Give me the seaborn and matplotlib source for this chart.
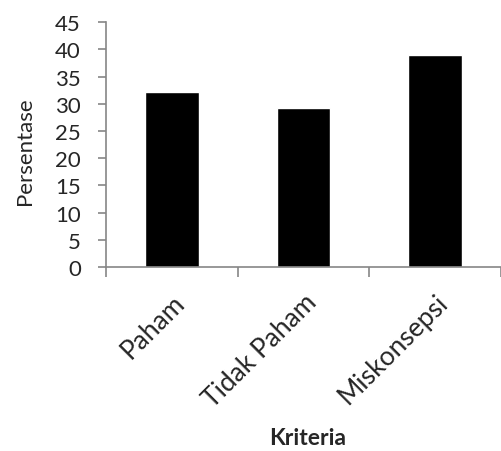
"""Bar chart of understanding criteria percentages."""

import matplotlib

matplotlib.use("Agg")
import matplotlib.pyplot as plt  # noqa: E402
import pandas as pd  # noqa: E402
import seaborn as sns  # noqa: E402

categories = ["Paham", "Tidak Paham", "Miskonsepsi"]
percentages = [32.1, 29.2, 38.9]

sns.set_style("white")
plt.rcParams["font.family"] = ["Lato", "DejaVu Sans"]

df = pd.DataFrame({"Kriteria": categories, "Persentase": percentages})

fig = plt.figure(figsize=(5.01, 4.52), dpi=100)
ax = fig.add_axes([0.2116, 0.4071, 0.7884, 0.5414])

sns.barplot(data=df, x="Kriteria", y="Persentase", color="black",
            saturation=1, width=0.41, ax=ax)

ax.set_ylim(0, 45)
ax.set_yticks(range(0, 46, 5))
ax.set_xlim(-0.5, 2.463)

axis_grey = "#868686"
for side in ["top", "right"]:
    ax.spines[side].set_visible(False)
for side in ["left", "bottom"]:
    ax.spines[side].set_color(axis_grey)
    ax.spines[side].set_linewidth(1.2)

ax.tick_params(axis="y", direction="out", length=6, width=1.2, color=axis_grey,
               labelsize=16, pad=12, left=True)
ax.set_xticks([-0.5, 0.5, 1.5, 2.5], minor=True)
ax.tick_params(axis="x", which="minor", direction="out", length=7, width=1.2,
               color=axis_grey, bottom=True)
ax.tick_params(axis="x", which="major", length=0, labelsize=19, pad=16)
plt.setp(ax.get_xticklabels(), rotation=45, ha="right", va="top",
         rotation_mode="anchor")

ax.set_ylabel("Persentase", fontsize=16)
ax.yaxis.set_label_coords(-0.18, 0.478)
ax.set_xlabel("Kriteria", fontsize=16.5, fontweight="bold", va="baseline")
ax.xaxis.set_label_coords(0.511, -0.725)

fig.savefig("out.png", dpi=100)
